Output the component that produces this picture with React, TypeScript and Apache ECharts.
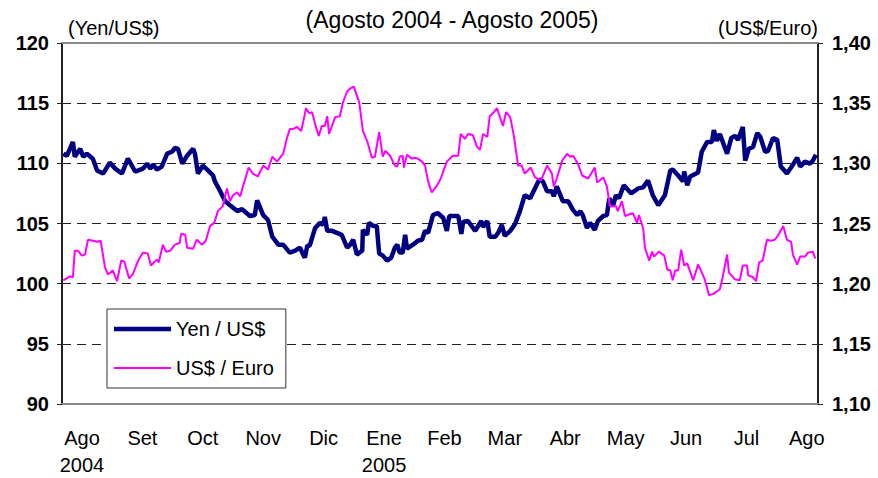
import React, { useEffect, useRef } from "react";
import * as echarts from "echarts";

// x = months since start of August 2004 (0 = "Ago 2004", 12 = "Ago 2005")
const yenUsd: [number, number][] = [
  [-0.31,110.80],[-0.25,110.63],[-0.15,111.78],[-0.12,110.55],[-0.03,111.21],[0.02,110.55],[0.08,110.80],[0.18,110.39],[0.25,109.40],[0.35,109.15],
  [0.46,110.06],[0.55,109.56],[0.66,109.15],[0.76,110.39],[0.88,109.32],[1.01,109.56],[1.08,109.98],[1.13,109.56],[1.18,109.89],[1.24,109.48],
  [1.32,109.73],[1.41,110.80],[1.49,110.96],[1.54,111.29],[1.59,111.21],[1.66,109.98],[1.74,110.63],[1.84,111.21],[1.87,110.80],[1.92,109.15],
  [2.00,109.81],[2.09,109.40],[2.17,108.99],[2.20,108.50],[2.28,107.76],[2.37,106.85],[2.45,106.52],[2.57,106.03],[2.65,106.20],[2.78,105.62],
  [2.86,105.70],[2.90,106.93],[3.00,105.70],[3.08,105.29],[3.15,103.90],[3.25,103.24],[3.33,103.24],[3.44,102.58],[3.53,102.74],[3.61,102.99],
  [3.66,102.42],[3.69,102.17],[3.73,103.16],[3.77,103.16],[3.86,104.63],[3.94,105.05],[3.99,104.88],[4.02,105.54],[4.06,104.39],[4.14,104.39],
  [4.22,104.22],[4.30,104.06],[4.39,102.99],[4.44,103.24],[4.49,103.65],[4.55,102.42],[4.64,102.74],[4.65,104.47],[4.72,104.06],[4.75,105.05],
  [4.82,104.80],[4.88,104.80],[4.92,102.50],[4.98,102.33],[5.05,101.92],[5.12,102.17],[5.18,102.99],[5.22,103.24],[5.26,102.58],[5.31,102.58],
  [5.35,104.06],[5.38,102.91],[5.48,103.24],[5.56,103.57],[5.63,103.65],[5.68,104.39],[5.73,104.22],[5.81,105.70],[5.89,105.87],[5.98,105.46],
  [6.04,104.39],[6.08,105.62],[6.14,105.62],[6.23,105.62],[6.28,104.14],[6.31,105.13],[6.39,105.21],[6.51,104.39],[6.61,105.21],[6.64,104.72],
  [6.71,105.21],[6.75,103.89],[6.84,103.89],[6.89,104.22],[6.95,104.88],[7.00,103.98],[7.09,104.39],[7.17,104.96],[7.25,106.03],[7.33,107.35],
  [7.42,107.10],[7.50,107.92],[7.57,108.66],[7.63,108.50],[7.70,107.67],[7.78,107.67],[7.81,107.26],[7.86,108.09],[7.96,106.85],[8.05,106.85],
  [8.13,106.11],[8.20,105.70],[8.25,106.03],[8.29,105.70],[8.36,104.63],[8.41,105.05],[8.49,104.47],[8.54,105.21],[8.63,105.62],[8.69,105.70],
  [8.73,107.10],[8.79,106.44],[8.84,107.35],[8.89,107.10],[8.97,108.17],[9.09,107.51],[9.21,107.92],[9.29,108.00],[9.37,108.58],[9.45,107.35],
  [9.54,106.52],[9.65,107.35],[9.74,109.40],[9.78,109.48],[9.87,108.99],[9.95,108.50],[9.97,109.32],[10.02,108.17],[10.07,108.91],[10.20,109.24],
  [10.26,110.96],[10.35,111.78],[10.43,111.78],[10.46,112.77],[10.51,111.87],[10.56,112.44],[10.68,110.80],[10.75,112.11],[10.81,112.28],[10.86,111.95],
  [10.94,113.02],[10.98,110.22],[11.04,111.21],[11.11,111.37],[11.18,112.52],[11.23,112.19],[11.31,110.96],[11.36,111.04],[11.44,112.11],[11.51,111.95],
  [11.57,109.73],[11.67,109.15],[11.75,109.73],[11.84,110.47],[11.89,109.73],[11.97,110.14],[12.05,109.98],[12.10,110.22],[12.15,110.71]
];

const usdEuro: [number, number][] = [
  [-0.31,1.2028],[-0.20,1.2061],[-0.15,1.2053],[-0.12,1.2274],[-0.07,1.2274],[0.00,1.2233],[0.05,1.2242],[0.10,1.2365],[0.18,1.2357],[0.25,1.2348],
  [0.31,1.2357],[0.38,1.2135],[0.43,1.2077],[0.51,1.2110],[0.58,1.2020],[0.65,1.2192],[0.70,1.2184],[0.78,1.2044],[0.84,1.2077],[0.93,1.2192],
  [1.01,1.2258],[1.09,1.2250],[1.14,1.2151],[1.24,1.2200],[1.27,1.2176],[1.34,1.2324],[1.39,1.2266],[1.46,1.2274],[1.54,1.2324],[1.62,1.2340],
  [1.64,1.2414],[1.71,1.2406],[1.74,1.2299],[1.84,1.2291],[1.90,1.2365],[1.99,1.2324],[2.05,1.2357],[2.12,1.2480],[2.19,1.2505],[2.25,1.2603],
  [2.33,1.2644],[2.40,1.2792],[2.45,1.2685],[2.50,1.2735],[2.57,1.2759],[2.62,1.2726],[2.67,1.2817],[2.76,1.2965],[2.83,1.2915],[2.91,1.2891],
  [3.00,1.2981],[3.08,1.2948],[3.15,1.3055],[3.23,1.3014],[3.33,1.3080],[3.39,1.3203],[3.44,1.3285],[3.49,1.3285],[3.56,1.3302],[3.63,1.3269],
  [3.71,1.3458],[3.76,1.3417],[3.81,1.3425],[3.86,1.3326],[3.92,1.3228],[3.97,1.3310],[4.02,1.3310],[4.06,1.3392],[4.09,1.3244],[4.19,1.3384],
  [4.27,1.3392],[4.32,1.3507],[4.39,1.3597],[4.44,1.3622],[4.50,1.3638],[4.59,1.3507],[4.65,1.3269],[4.72,1.3187],[4.80,1.3047],[4.85,1.3055],
  [4.92,1.3260],[4.98,1.3055],[5.02,1.3104],[5.10,1.3063],[5.18,1.2981],[5.22,1.2973],[5.26,1.3055],[5.31,1.3063],[5.33,1.2965],[5.38,1.3071],
  [5.46,1.3039],[5.51,1.3047],[5.56,1.3039],[5.63,1.3014],[5.68,1.2981],[5.73,1.2850],[5.79,1.2759],[5.88,1.2817],[5.94,1.2874],[6.04,1.3014],
  [6.14,1.3063],[6.23,1.3063],[6.27,1.3244],[6.34,1.3203],[6.39,1.3244],[6.47,1.3236],[6.54,1.3137],[6.59,1.3113],[6.64,1.3244],[6.71,1.3219],
  [6.75,1.3392],[6.82,1.3425],[6.87,1.3458],[6.97,1.3310],[7.02,1.3425],[7.09,1.3384],[7.15,1.3228],[7.22,1.2981],[7.28,1.2981],[7.33,1.2915],
  [7.43,1.2965],[7.50,1.2883],[7.60,1.2858],[7.70,1.2981],[7.78,1.2915],[7.81,1.2809],[7.86,1.2874],[7.95,1.3022],[8.03,1.3080],[8.08,1.3055],
  [8.13,1.3063],[8.21,1.2998],[8.28,1.2899],[8.38,1.2874],[8.49,1.2965],[8.53,1.2841],[8.63,1.2883],[8.69,1.2809],[8.74,1.2644],[8.84,1.2644],
  [8.87,1.2603],[8.94,1.2685],[8.99,1.2562],[9.12,1.2587],[9.19,1.2505],[9.22,1.2570],[9.29,1.2463],[9.32,1.2299],[9.39,1.2192],[9.44,1.2266],
  [9.47,1.2225],[9.55,1.2266],[9.64,1.2233],[9.69,1.2118],[9.74,1.2110],[9.78,1.2028],[9.82,1.2110],[9.87,1.2110],[9.92,1.2283],[9.97,1.2151],
  [10.02,1.2168],[10.12,1.2028],[10.20,1.2159],[10.26,1.2094],[10.31,1.2036],[10.38,1.1905],[10.45,1.1913],[10.56,1.1954],[10.60,1.2036],[10.68,1.2242],
  [10.71,1.2094],[10.81,1.2036],[10.89,1.2028],[10.94,1.2151],[11.01,1.2151],[11.03,1.2069],[11.11,1.2053],[11.16,1.2020],[11.21,1.2176],[11.27,1.2192],
  [11.34,1.2365],[11.41,1.2357],[11.47,1.2365],[11.52,1.2398],[11.61,1.2480],[11.67,1.2365],[11.74,1.2348],[11.77,1.2242],[11.84,1.2159],[11.89,1.2225],
  [11.97,1.2225],[12.02,1.2258],[12.10,1.2266],[12.14,1.2209]
];

const monthLabels = ["Ago", "Set", "Oct", "Nov", "Dic", "Ene", "Feb", "Mar", "Abr", "May", "Jun", "Jul", "Ago"];
const yearLabels = ["2004", "", "", "", "", "2005", "", "", "", "", "", "", ""];
const monthPositions = [0, 1, 2, 3, 4, 5, 6, 7, 8, 9, 10, 11, 12];

const seriesNames = ["Yen / US$", "US$ / Euro"];
const titleText = "(Agosto 2004 - Agosto 2005)";
const leftUnit = "(Yen/US$)";
const rightUnit = "(US$/Euro)";

const FONT = "'Liberation Sans', Arial, Helvetica, sans-serif";
const X_MIN = -0.331;
const X_MAX = 12.185;

export default function App() {
  const ref = useRef<HTMLDivElement>(null);

  useEffect(() => {
    if (!ref.current) return;
    const chart = echarts.init(ref.current, null, { renderer: "svg" });
    const option: any = {
      animation: false,
      backgroundColor: "#ffffff",
      textStyle: { fontFamily: FONT },
      grid: { left: 62, right: 60, top: 43, bottom: 70, containLabel: false },
      graphic: [
        {
          type: "text",
          x: 452,
          y: 20,
          style: { text: titleText, fill: "#000", font: `23px ${FONT}`, textAlign: "center", textVerticalAlign: "middle" },
        },
        {
          type: "text",
          x: 68,
          y: 28,
          style: { text: leftUnit, fill: "#000", font: `20px ${FONT}`, textAlign: "left", textVerticalAlign: "middle" },
        },
        {
          type: "text",
          x: 818,
          y: 28,
          style: { text: rightUnit, fill: "#000", font: `20px ${FONT}`, textAlign: "right", textVerticalAlign: "middle" },
        },
      ],
      legend: {
        orient: "vertical",
        left: 107,
        top: 309,
        padding: [8, 12, 8, 7],
        itemWidth: 57,
        itemHeight: 14,
        itemGap: 15,
        backgroundColor: "#ffffff",
        borderColor: "#333",
        borderWidth: 1,
        borderRadius: 0,
        textStyle: { fontSize: 20, color: "#000", fontFamily: FONT, lineHeight: 24 },
        data: [
          { name: seriesNames[0], icon: "path://M0,0L57,0L57,4.5L0,4.5Z", itemStyle: { color: "#000080" } },
          { name: seriesNames[1], icon: "path://M0,0L57,0L57,2L0,2Z", itemStyle: { color: "#ff00ff" } },
        ],
      },
      xAxis: [
        {
          type: "value",
          min: X_MIN,
          max: X_MAX,
          position: "bottom",
          axisLine: { show: true, onZero: false, lineStyle: { color: "#8a8a8a", width: 2 } },
          axisTick: { show: false },
          splitLine: { show: false },
          axisLabel: {
            customValues: monthPositions,
            formatter: (v: number) => {
              const i = Math.round(v);
              return yearLabels[i] ? `${monthLabels[i]}\n${yearLabels[i]}` : monthLabels[i];
            },
            fontSize: 20,
            lineHeight: 27,
            color: "#000",
            fontFamily: FONT,
            margin: 20,
          },
        },
        {
          type: "value",
          min: X_MIN,
          max: X_MAX,
          position: "top",
          axisLine: { show: true, onZero: false, lineStyle: { color: "#8a8a8a", width: 2 } },
          axisTick: { show: false },
          axisLabel: { show: false },
          splitLine: { show: false },
        },
      ],
      yAxis: [
        {
          type: "value",
          min: 90,
          max: 120,
          interval: 5,
          position: "left",
          axisLine: { show: true, onZero: false, lineStyle: { color: "#222", width: 2 } },
          axisTick: { show: true, length: 5, lineStyle: { color: "#222", width: 1 } },
          axisLabel: { fontSize: 20, fontWeight: "bold", color: "#000", fontFamily: FONT, margin: 13 },
          splitLine: { show: true, lineStyle: { type: [9, 6], color: "#222", width: 1 } },
        },
        {
          type: "value",
          min: 1.1,
          max: 1.4,
          interval: 0.05,
          position: "right",
          axisLine: { show: true, onZero: false, lineStyle: { color: "#222", width: 2 } },
          axisTick: { show: true, length: 5, lineStyle: { color: "#222", width: 1 } },
          axisLabel: {
            fontSize: 20,
            fontWeight: "bold",
            color: "#000",
            fontFamily: FONT,
            margin: 14,
            formatter: (v: number) => v.toFixed(2).replace(".", ","),
          },
          splitLine: { show: false },
        },
      ],
      series: [
        {
          name: seriesNames[0],
          type: "line",
          xAxisIndex: 0,
          yAxisIndex: 0,
          data: yenUsd,
          symbol: "none",
          showSymbol: false,
          color: "#000080",
          lineStyle: { color: "#000080", width: 4.5 },
          z: 3,
        },
        {
          name: seriesNames[1],
          type: "line",
          xAxisIndex: 0,
          yAxisIndex: 1,
          data: usdEuro,
          symbol: "none",
          showSymbol: false,
          color: "#ff00ff",
          lineStyle: { color: "#ff00ff", width: 2 },
          z: 4,
        },
      ],
    };
    chart.setOption(option);
    return () => chart.dispose();
  }, []);

  return (
    <div
      ref={ref}
      style={{ position: "fixed", left: 0, top: 0, width: 878, height: 478, background: "#fff" }}
    />
  );
}
